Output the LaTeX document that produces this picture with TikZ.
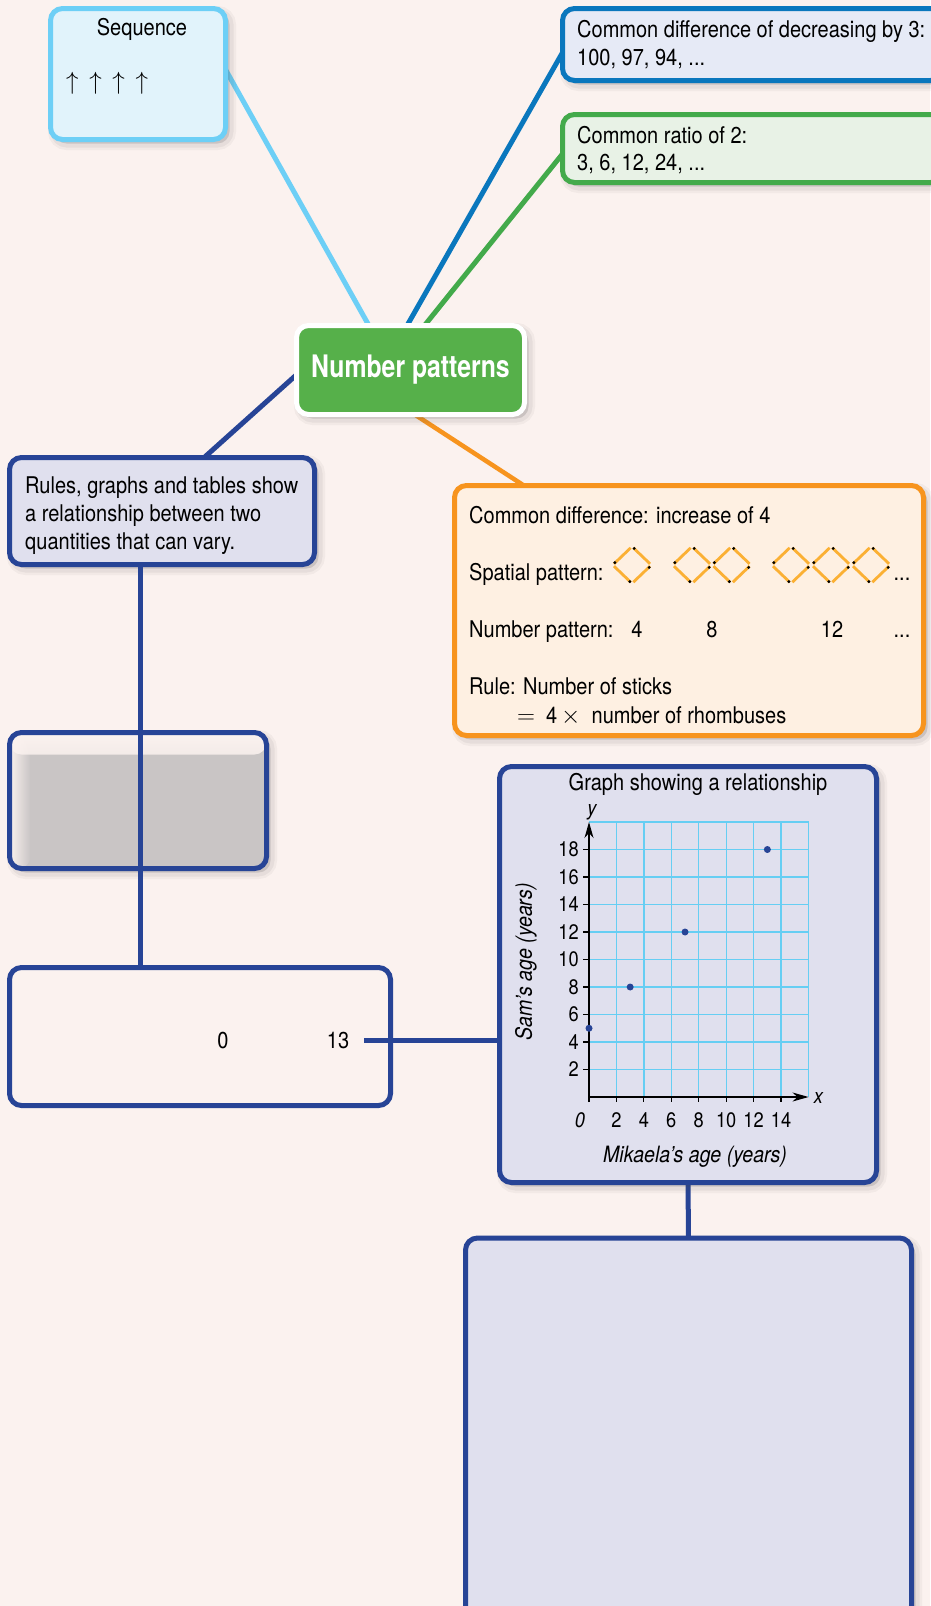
\documentclass[tikz,border=0pt]{standalone}
\usepackage{fontspec}
\setmainfont[FakeStretch=0.87]{TeX Gyre Heros}
\newfontfamily\headfont[FakeStretch=0.8]{TeX Gyre Heros}
\usetikzlibrary{calc,fadings,arrows.meta}

\definecolor{pagebg}{HTML}{FBF2EF}
\definecolor{navy}{HTML}{274496}
\definecolor{lav}{HTML}{E0E0EE}
\definecolor{skyline}{HTML}{6DCFF6}
\definecolor{skyfill}{HTML}{E1F3FB}
\definecolor{cdline}{HTML}{0A77BD}
\definecolor{cdfill}{HTML}{E6EAF6}
\definecolor{grline}{HTML}{43AA4B}
\definecolor{grfill}{HTML}{E8F2E6}
\definecolor{npgreen}{HTML}{56B04A}
\definecolor{orline}{HTML}{F7941E}
\definecolor{orfill}{HTML}{FEF0E2}
\definecolor{stickcol}{HTML}{FBB034}
\definecolor{greybox}{HTML}{C9C5C5}
\definecolor{gridblue}{HTML}{66CEF3}

\pgfdeclarelayer{backdrop}
\pgfdeclarelayer{wires}
\pgfsetlayers{backdrop,wires,main}

\tikzset{
  softshadow/.style={
    preaction={draw=black!70, draw opacity=0.05, line width=13pt, transform canvas={shift={(4pt,-4pt)}}},
    preaction={draw=black!70, draw opacity=0.07, line width=8pt, transform canvas={shift={(4pt,-4pt)}}},
    preaction={fill=black!70, fill opacity=0.18, transform canvas={shift={(4pt,-4pt)}}}},
  card/.style={rectangle, rounded corners=12pt, line width=5pt, inner sep=0pt, softshadow},
  flatcard/.style={rectangle, rounded corners=12pt, line width=5pt, inner sep=0pt},
  txt/.style={inner sep=0pt, anchor=base west, font=\fontsize{23}{28}\selectfont},
  ctxt/.style={inner sep=0pt, anchor=base, font=\fontsize{23}{28}\selectfont},
  gtxt/.style={inner sep=0pt, font=\fontsize{21}{24}\selectfont},
  wire/.style={line width=5pt},
  gridline/.style={gridblue, line width=1.4pt},
  axisline/.style={black, line width=1.2pt},
  stickline/.style={stickcol, line width=2.8pt},
}

% one rhombus of four matchsticks, heads placed clockwise
\newcommand\matchrhomb[1]{%
  \begin{scope}[shift={(#1,565)}]
    \draw[stickline] (-18,-1.2) -- (-1.3,-17.2);
    \draw[stickline] (1.3,-17.2) -- (18,-1.2);
    \draw[stickline] (18,1.2) -- (1.3,17.2);
    \draw[stickline] (-1.3,17.2) -- (-18,1.2);
    \fill[black] (-17.2,-2.4) circle (1.6pt);
    \fill[black] (2.2,-16.6) circle (1.6pt);
    \fill[black] (17.2,2.4) circle (1.6pt);
    \fill[black] (-2.2,16.6) circle (1.6pt);
  \end{scope}}

\begin{document}
\begin{tikzpicture}[x=1pt, y=-1pt]
\useasboundingbox (0,0) rectangle (930,1606);
\begin{pgfonlayer}{backdrop}
  \fill[pagebg] (0,0) rectangle (930,1606);
\end{pgfonlayer}

% ---- boxes ----
\node[card, draw=skyline, fill=skyfill, minimum width=175pt, minimum height=131pt] (seq) at (138,74) {};
\node[ctxt] (seqtitle) at (142,35) {Sequence};
\node[inner sep=0pt, anchor=base west, font=\fontsize{24}{24}\selectfont] (arrows) at (66,89.5)
  {$\uparrow$\hspace{10.7pt}$\uparrow$\hspace{10.7pt}$\uparrow$\hspace{10.7pt}$\uparrow$};

\node[card, draw=cdline, fill=cdfill, minimum width=380pt, minimum height=72pt] (cd) at (752.5,44.5) {};
\node[txt] (cd1) at (577,37) {Common difference of decreasing by 3:};
\node[txt] (cd2) at (577,65) {100, 97, 94, ...};

\node[card, draw=grline, fill=grfill, minimum width=380pt, minimum height=68pt] (cr) at (752.5,148.5) {};
\node[txt] (cr1) at (577,143) {Common ratio of 2:};
\node[txt] (cr2) at (577,170) {3, 6, 12, 24, ...};

\node[card, draw=white, fill=npgreen, minimum width=228pt, minimum height=89pt,
  text=white, font=\headfont\bfseries\fontsize{31}{31}\selectfont] (np) at (410.5,370) {Number patterns};

\node[card, draw=navy, fill=lav, minimum width=305pt, minimum height=107pt] (rules) at (162,511) {};
\node[txt] (r1) at (25,493) {Rules, graphs and tables show};
\node[txt] (r2) at (25,521) {a relationship between two};
\node[txt] (r3) at (25,549) {quantities that can vary.};

% grey box, lighter along its top and left edges
\node[card, draw=navy, fill=greybox, minimum width=257pt, minimum height=136pt,
  path picture={
    \shade[top color=pagebg, bottom color=greybox] (path picture bounding box.north west) rectangle ([yshift=-22pt]path picture bounding box.north east);
    \fill[pagebg, path fading=east] (path picture bounding box.north west) rectangle ([xshift=21pt]path picture bounding box.south west);
  }] (grey) at (138,800.5) {};

\node[flatcard, draw=navy, fill=pagebg, minimum width=381pt, minimum height=138pt] (bl) at (200,1036.5) {};
\node[ctxt] (zero) at (223,1048) {0};
\node[ctxt] (thirteen) at (338,1048) {13};
\coordinate (tail) at (364,1040);

% orange box with the rhombus pattern
\node[card, draw=orline, fill=orfill, minimum width=469pt, minimum height=250pt] (orb) at (689,610.5) {};
\node[txt] (o1) at (469,523) {Common difference: increase of 4};
\node[txt] (o2) at (469,580) {Spatial pattern:};
\matchrhomb{632}
\matchrhomb{692}
\matchrhomb{731.5}
\matchrhomb{791}
\matchrhomb{831}
\matchrhomb{871}
\node[ctxt] (odots1) at (902,580) {...};
\node[txt] (o3) at (469,637) {Number pattern:};
\node[ctxt] (n4) at (637,637) {4};
\node[ctxt] (n8) at (712,637) {8};
\node[ctxt] (n12) at (832,637) {12};
\node[ctxt] (odots2) at (902,637) {...};
\node[txt] (o4) at (469,694) {Rule: Number of sticks};
\node[txt] (o5) at (517,723) {$=$\ \ 4\,$\times$\ \ number of rhombuses};

% graph box
\node[card, draw=navy, fill=lav, minimum width=377pt, minimum height=416pt] (gbox) at (688,974.5) {};
\node[inner sep=0pt, anchor=base, font=\fontsize{23}{26}\selectfont] (gtitle) at (698,790) {Graph showing a relationship};

\begin{scope}[shift={(589,1097)}, x=13.72pt, y=13.75pt]
  \foreach \i in {2,4,...,16} \draw[gridline] (\i,0) -- (\i,20);
  \foreach \j in {2,4,...,20} \draw[gridline] (0,\j) -- (16,\j);
  \draw[axisline, -{Stealth[length=16pt, width=9pt, inset=5pt]}] (0,0) -- (16,0);
  \draw[axisline, -{Stealth[length=16pt, width=9pt, inset=5pt]}] ([yshift=-5pt]0,0) -- (0,20);
  \foreach \j in {2,4,...,18} {
    \draw[axisline] (0,\j) -- ++(-6pt,0);
    \node[gtxt, anchor=east] at ([xshift=-10pt]0,\j) {\j};
  }
  \foreach \i in {2,4,...,14} {
    \draw[axisline] (\i,0) -- ++(0,-5pt);
    \node[gtxt, anchor=base] at ([yshift=-30pt]\i,0) {\i};
  }
  \node[gtxt, anchor=base] (gzero) at ([xshift=-9pt, yshift=-30pt]0,0) {\itshape 0};
  \node[gtxt, anchor=base] (gy) at ([xshift=3pt, yshift=7pt]0,20) {\itshape y};
  \node[gtxt, anchor=base] (gx) at ([xshift=10pt, yshift=-6pt]16,0) {\itshape x};
  \fill[navy] (0,5) circle (3.5pt);
  \fill[navy] (3,8) circle (3.5pt);
  \fill[navy] (7,12) circle (3.5pt);
  \fill[navy] (13,18) circle (3.5pt);
\end{scope}
\node[inner sep=0pt, anchor=base, font=\fontsize{22.5}{26}\selectfont\itshape] (xtitle) at (695,1162) {Mikaela’s age (years)};
\node[inner sep=0pt, rotate=90, font=\fontsize{22.5}{26}\selectfont\itshape] (ytitle) at (526,962) {Sam’s age (years)};

\node[card, draw=navy, fill=lav, minimum width=446pt, minimum height=380pt] (big) at (688.5,1428) {};

% ---- connectors ----
\begin{pgfonlayer}{wires}
  \coordinate (a1) at (seq.east);
  \coordinate (b1) at ($(np.north)+(-43,0)$);
  \draw[wire, skyline] ($(a1)!-6pt!(b1)$) -- ($(b1)!-6pt!(a1)$);
  \coordinate (a2) at ($(cd.west)+(0,12.5)$);
  \coordinate (b2) at ($(np.north)+(-2,0)$);
  \draw[wire, cdline] ($(a2)!-6pt!(b2)$) -- ($(b2)!-6pt!(a2)$);
  \coordinate (a3) at ($(cr.west)+(0,8.5)$);
  \coordinate (b3) at ($(np.north)+(16,0)$);
  \draw[wire, grline] ($(a3)!-6pt!(b3)$) -- ($(b3)!-6pt!(a3)$);
  \coordinate (a4) at ($(np.west)+(0,7)$);
  \coordinate (b4) at ($(rules.north)+(45,0)$);
  \draw[wire, navy] ($(a4)!-6pt!(b4)$) -- ($(b4)!-6pt!(a4)$);
  \coordinate (a5) at ($(np.south)+(8,0)$);
  \coordinate (b5) at ($(orb.north)+(-169,0)$);
  \draw[wire, orline, line width=4.5pt] ($(a5)!-6pt!(b5)$) -- ($(b5)!-6pt!(a5)$);
  \draw[wire, navy] ([yshift=3pt]gbox.south) -- ([yshift=-3pt]big.north);
\end{pgfonlayer}
\draw[wire, navy] ($(rules.south)+(-22,0)$) -- ($(bl.north)+(-60,0)$);
\draw[wire, navy] (tail) -- (tail -| gbox.west);
\end{tikzpicture}
\end{document}
